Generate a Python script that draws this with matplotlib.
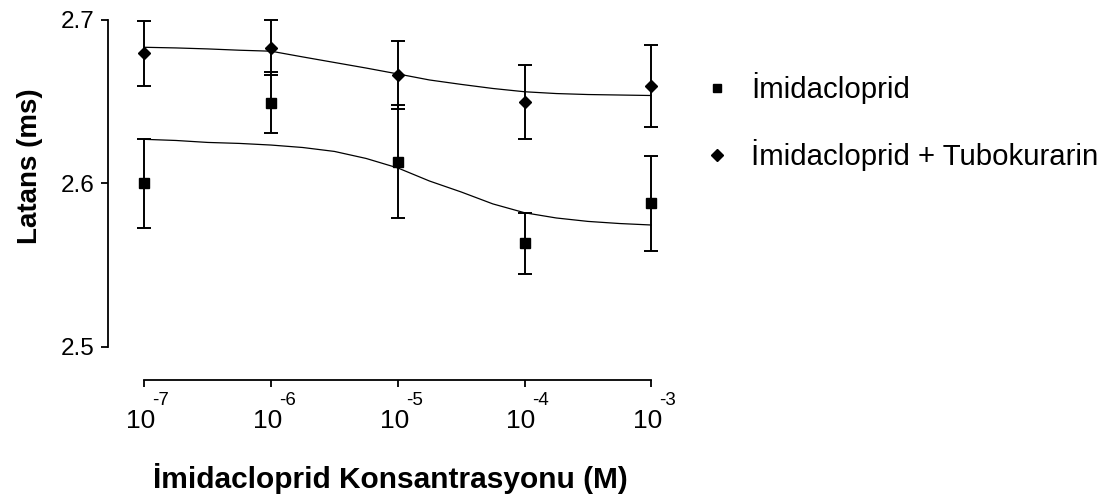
import numpy as np
import matplotlib
matplotlib.use("Agg")
import matplotlib.pyplot as plt
import matplotlib.transforms as mtransforms
from matplotlib.lines import Line2D

plt.rcParams['font.family'] = ['Liberation Sans', 'DejaVu Sans']
plt.rcParams['axes.unicode_minus'] = False

# concentration exponents (10^x M)
log_conc = [-7, -6, -5, -4, -3]

# Imidacloprid (squares)
imi_mean = [2.600, 2.6494, 2.6133, 2.5634, 2.5879]
imi_err = [0.027, 0.0185, 0.0345, 0.0188, 0.029]

# Imidacloprid + Tubokurarin (diamonds)
tubo_mean = [2.6796, 2.6831, 2.6664, 2.6497, 2.6596]
tubo_err = [0.020, 0.017, 0.0208, 0.0226, 0.025]

# fitted curves at quarter-decade steps
curve_log = [-7, -6.75, -6.5, -6.25, -6, -5.75, -5.5, -5.25, -5,
             -4.75, -4.5, -4.25, -4, -3.75, -3.5, -3.25, -3]
imi_fit = [2.6270, 2.6263, 2.6251, 2.6245, 2.6235, 2.6220, 2.6196, 2.6153, 2.6095,
           2.6015, 2.5948, 2.5875, 2.5821, 2.5789, 2.5768, 2.5755, 2.5746]
tubo_fit = [2.6833, 2.6829, 2.6823, 2.6815, 2.6809, 2.6774, 2.6740, 2.6706, 2.6670,
            2.6633, 2.6606, 2.6581, 2.6561, 2.6550, 2.6544, 2.6541, 2.6538]

x = 10.0 ** np.array(log_conc)
xc = 10.0 ** np.array(curve_log)

fig = plt.figure(figsize=(11.19, 5), dpi=100)
ax = fig.add_axes([108 / 1119, 1 - 380 / 500, (680 - 108) / 1119, 370 / 500])

ax.plot(xc, imi_fit, color='black', lw=0.9, clip_on=False)
ax.plot(xc, tubo_fit, color='black', lw=0.9, clip_on=False)

ax.errorbar(x, imi_mean, yerr=imi_err, fmt='s', color='black', ms=6.5,
            elinewidth=1.4, capsize=5, capthick=1.4, clip_on=False)
ax.errorbar(x, tubo_mean, yerr=tubo_err, fmt='D', color='black', ms=6.5,
            elinewidth=1.4, capsize=5, capthick=1.4, clip_on=False)

ax.set_xscale('log')
ax.set_xlim(10 ** -7.2864, 10 ** -2.7736)
ax.set_ylim(2.4798, 2.7061)
ax.set_xticks(x)
ax.set_xticklabels([])
ax.minorticks_off()
ax.set_yticks([2.5, 2.6, 2.7])
ax.set_yticklabels(['2.5', '2.6', '2.7'])

# tick labels 10^n drawn as base + raised exponent (offsets in pixels at dpi 100)
trans = mtransforms.blended_transform_factory(ax.transData, ax.transAxes)
for xv, e in zip(x, log_conc):
    ax.text(xv, 0, '10', transform=trans + mtransforms.ScaledTranslation(11 / 100, -48 / 100, fig.dpi_scale_trans),
            ha='right', va='baseline', fontsize=19)
    ax.text(xv, 0, str(e), transform=trans + mtransforms.ScaledTranslation(8 / 100, -25 / 100, fig.dpi_scale_trans),
            ha='left', va='baseline', fontsize=13.5)

for s in ['top', 'right']:
    ax.spines[s].set_visible(False)
ax.spines['left'].set_bounds(2.5, 2.7)
ax.spines['bottom'].set_bounds(1e-7, 1e-3)
for s in ['left', 'bottom']:
    ax.spines[s].set_linewidth(1.3)
ax.tick_params(axis='both', width=1.3, length=5, color='black')
ax.tick_params(axis='y', labelsize=17.5, pad=5)

ax.set_xlabel('İmidacloprid Konsantrasyonu (M)', fontsize=21.5, fontweight='bold', labelpad=0)
ax.xaxis.set_label_coords(390 / 1119, 1 - 488 / 500, transform=fig.transFigure)
ax.xaxis.label.set_va('baseline')
ax.set_ylabel('Latans (ms)', fontsize=20, fontweight='bold')
ax.yaxis.set_label_coords(30 / 1119, 1 - 166 / 500, transform=fig.transFigure)
ax.yaxis.label.set_va('center')

handles = [
    Line2D([], [], marker='s', color='black', ls='none', ms=6),
    Line2D([], [], marker='D', color='black', ls='none', ms=6),
]
ax.legend(handles, ['İmidacloprid', 'İmidacloprid + Tubokurarin'],
          loc='center left', bbox_to_anchor=(702 / 1119, 1 - 121.5 / 500),
          bbox_transform=fig.transFigure, frameon=False, fontsize=21.2,
          borderpad=0, borderaxespad=0,
          handlelength=1.0, handletextpad=0.67, labelspacing=1.2)

fig.savefig('out.png', dpi=100)
